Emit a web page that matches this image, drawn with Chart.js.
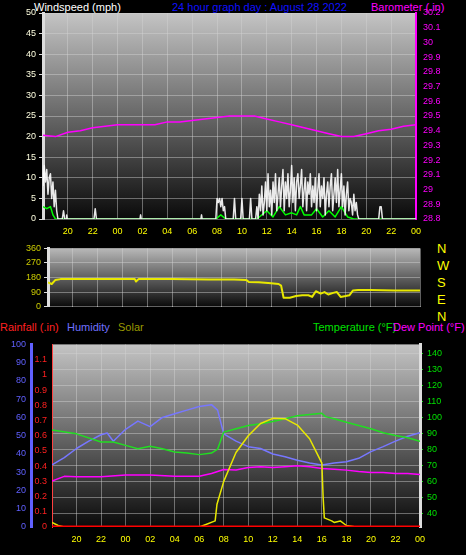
<!DOCTYPE html>
<html><head><meta charset="utf-8">
<script src="https://cdn.jsdelivr.net/npm/chart.js@4.4.0/dist/chart.umd.min.js"></script>
<style>
body{margin:0;background:#000;width:466px;height:555px;overflow:hidden;position:relative;font-family:"Liberation Sans",Arial,sans-serif}
canvas{position:absolute;left:0}
.t{position:absolute;font-size:11px;white-space:nowrap;line-height:12px}
</style></head><body>
<div class="t" style="left:34px;top:1px;color:#fff">Windspeed (mph)</div>
<div class="t" style="left:172px;top:1px;color:#1010ff">24 hour graph day : August 28 2022</div>
<div class="t" style="left:371px;top:1px;color:#ff00ff">Barometer (.in)</div>
<div class="t" style="left:0px;top:321px;color:#ff2020">Rainfall (.in)</div>
<div class="t" style="left:67px;top:321px;color:#7070ff">Humidity</div>
<div class="t" style="left:118px;top:321px;color:#999900">Solar</div>
<div class="t" style="left:313px;top:321px;color:#00e000">Temperature (°F)</div>
<div class="t" style="left:393px;top:321px;color:#ff00ff">Dew Point (°F)</div>
<div class="t" style="left:437px;top:240px;color:#ffff00;font-size:13px;line-height:17px">N<br>W<br>S<br>E<br>N</div>
<canvas id="c1" width="466" height="245" style="top:0"></canvas>
<canvas id="c2" width="466" height="75" style="top:240px"></canvas>
<canvas id="c3" width="466" height="220" style="top:335px"></canvas>
<script>
// hours since 18:00 (x = 0..30)
const hourTicks=[0,2,4,6,8,10,12,14,16,18,20,22,24,26,28,30];
const windHours=[0,0.1,0.2,0.3,0.4,0.5,0.6,0.7,0.8,0.9,1.0,1.1,1.2,1.55,1.65,1.75,1.85,1.9,1.95,4.1,4.2,4.3,7.8,7.85,7.9,12.7,12.75,12.8,13.9,14.0,14.1,14.2,14.3,14.4,14.5,14.6,14.7,15.3,15.4,15.5,15.9,16.0,16.1,16.6,16.7,16.8,17.1,
17.2,17.3,17.4,17.5,17.6,17.7,17.8,17.9,18.0,
18.1,18.2,18.3,18.4,18.5,18.6,18.7,18.8,18.9,19.0,
19.1,19.2,19.3,19.4,19.5,19.6,19.7,19.8,19.9,20.0,
20.1,20.2,20.3,20.4,20.5,20.6,20.7,20.8,20.9,21.0,
21.1,21.2,21.3,21.4,21.5,21.6,21.7,21.8,21.9,22.0,
22.1,22.2,22.3,22.4,22.5,22.6,22.7,22.8,22.9,23.0,
23.1,23.2,23.3,23.4,23.5,23.6,23.7,23.8,23.9,24.0,
24.1,24.2,24.3,24.4,24.5,24.6,24.7,24.8,24.9,25.0,
25.1,25.2,25.3,25.4,25.5,27.0,27.1,27.2,27.3,30];
const windSpeed=[8,13,9,12,6,10,11,5,9,3,7,2,0,0,2,0,0,1,0,0,2.5,0,0,1,0,0,1,0,0,5,4,5,3,5,2,3,0,0,5,0,0,5,0,0,5,0,0,
3,0,6,2,8,1,4,9,2,
11,3,7,1,9,4,11,2,6,10,
3,8,12,2,9,5,11,3,7,13,
4,10,2,9,11,5,8,12,3,7,
10,2,9,6,11,3,8,4,10,2,
7,11,3,8,5,10,1,6,9,3,
8,11,2,6,10,4,12,3,7,11,
3,8,1,6,9,2,5,4,1,6,
2,4,1,0,0,0,3,3,0,0];
const avgHours=[0,0.3,0.6,0.8,1.0,13.9,14.3,14.7,17.2,18,18.5,19,19.5,20,20.4,20.7,21,21.6,22,22.5,23,23.5,24,24.5,25,30];
const avgSpeed=[3,2.5,3,1,0,0,1,0,0,2,0.5,3,1,1.5,1,3,1,1,2.5,0.5,2,0.5,3,0.5,0,0];
const baroHours=[0,1,2,3,4,5,6,7,8,9,10,11,12,13,14,15,16,17,18,19,20,21,22,23,24,25,26,27,28,29,30];
const baroInches=[29.37,29.36,29.39,29.40,29.42,29.43,29.44,29.44,29.44,29.44,29.46,29.46,29.47,29.48,29.49,29.50,29.50,29.50,29.48,29.46,29.44,29.42,29.40,29.38,29.36,29.36,29.38,29.40,29.41,29.43,29.44];
const dirHours=[0,0.3,0.6,1,4,7,7.1,7.3,10,13,14,15,16,16.2,17,18,18.6,18.8,19.0,19.5,20,20.5,21,21.3,21.6,22,22.3,22.6,23,23.3,23.6,24,24.3,24.6,25,26,28,30];
const dirDegrees=[150,140,165,170,170,170,155,170,170,168,168,168,165,152,150,145,140,130,55,55,65,70,70,60,95,80,90,75,85,90,60,65,70,100,102,102,100,100];
const humHours=[0,1,2,3,4,4.5,5,6,7,8,9,10,11,12,13,13.5,14,15,16,17,18,19,20,21,22,23,24,25,26,27,28,29,30];
const humidity=[34,38,43,47,50.5,51.5,47,53.5,58,55,60,62,64,66,67,64,51,47,44,43,40,38.5,36.6,35,34,35,35.7,37.6,41.3,44,47,49.7,51.6];
const tempHours=[0,2,4,5,6,7,8,9,10,11,12,13,13.5,14,15,16,17,18,19,20,21,22,22.3,23,24,25,26,27,28,29,30];
const temperature=[92,89.6,84.5,84.5,82.4,80.3,81.8,80.3,78.3,77.6,76.6,77.6,80,90.7,92.8,94.8,95.9,97.3,99,101,101.7,102.5,100.4,99,96.9,94.8,92.8,90.3,88.6,87.2,85];
const dewHours=[0,1,2,4,6,8,10,12,13,14,15,16,17,18,19,20,21,22,23,24,25,26,27,28,29,30];
const dewPoint=[60,63,62.7,62.7,63.8,63.8,63.1,63.1,64.8,67.3,67,68.5,69,68.5,69,69.6,69,67.9,67.5,66.9,66,65.4,65.4,64.8,64.8,64.2];
const solarHours=[0,0.5,1,12,12.5,13.3,13.45,13.6,14,15,16,17,18,19,20,21,21.5,22,22.1,22.2,22.5,22.8,23,23.5,24,24.8,30];
const solar=[30,10,0,0,15,40,150,190,300,490,600,680,714,712,670,580,500,420,200,60,50,40,30,40,10,0,0];
const rainHours=[0,30];
const rainfall=[0,0];

const hourLabel=v=>(v===0)?'':String((18+v)%24).padStart(2,'0');
const grid={color:'rgba(210,210,210,0.45)',lineWidth:1,tickLength:4,tickColor:'#ddd'};
function bg(c1,c2){return{id:'bg',beforeDraw(ch){const a=ch.chartArea,x=ch.ctx;const g=x.createLinearGradient(0,a.top,0,a.bottom);g.addColorStop(0,c1);g.addColorStop(1,c2);x.save();x.fillStyle=g;x.fillRect(a.left,a.top,a.right-a.left,a.bottom-a.top);x.restore();}};}
const pts=(xs,ys)=>xs.map((h,i)=>({x:h,y:ys[i]}));
const f10={family:'"Liberation Sans",Arial',size:9};
const xAxis=(show,h)=>({type:'linear',min:0,max:30,afterBuildTicks:s=>{s.ticks=hourTicks.map(v=>({value:v}));},
  ticks:{display:show,color:'#ffff00',font:f10,callback:hourLabel,maxRotation:0,autoSkip:false,padding:7},
  grid:{...grid,borderDash:[1,2],tickLength:0},border:{display:false},afterFit:s=>{s.height=h;}});
const lineDs=(data,color,axis,w)=>({data,borderColor:color,borderWidth:w||1.5,pointRadius:0,yAxisID:axis,tension:0,fill:false});
const base={responsive:false,animation:false,parsing:true,plugins:{legend:{display:false},tooltip:{enabled:false}},elements:{line:{borderJoinStyle:'round'}}};

new Chart(document.getElementById('c1'),{type:'line',
 data:{datasets:[lineDs(pts(windHours,windSpeed),'rgba(255,255,255,0.9)','y',1.5),lineDs(pts(avgHours,avgSpeed),'#00ff00','y',1.5),lineDs(pts(baroHours,baroInches),'#ff00ff','y2',1.5)]},
 options:{...base,layout:{padding:{top:13}},scales:{
  x:xAxis(true,26),
  y:{position:'left',min:0,max:50,ticks:{stepSize:5,autoSkip:false,color:'#ffffe0',font:f10,padding:3},grid:{...grid,borderDash:[1,2]},border:{color:'#ddd',width:3},afterFit:s=>{s.width=43;}},
  y2:{position:'right',min:28.8,max:30.2,ticks:{stepSize:0.1,autoSkip:false,color:'#ff00ff',font:f10,padding:3,callback:v=>String(Number(v.toFixed(1)))},grid:{display:false,tickColor:'#ff00ff',tickLength:4},border:{color:'#ff00ff',width:2},afterFit:s=>{s.width=50;}}}},
 plugins:[bg('#c4c4c4','#0a0a0a')]});

new Chart(document.getElementById('c2'),{type:'line',
 data:{datasets:[lineDs(pts(dirHours,dirDegrees),'#e8e800','y',2)]},
 options:{...base,layout:{padding:{top:6,bottom:0,right:46}},scales:{
  x:xAxis(false,5),
  y:{position:'left',min:0,max:360,ticks:{stepSize:90,autoSkip:false,color:'#cccc00',font:f10,padding:3},grid:{...grid,borderDash:[1,2]},border:{color:'#ddd',width:3},afterFit:s=>{s.width=48;}}}},
 plugins:[bg('#b8b8b8','#0a0a0a')]});

new Chart(document.getElementById('c3'),{type:'line',
 data:{datasets:[lineDs(pts(rainHours,rainfall),'#ff0000','rain',3),lineDs(pts(solarHours,solar),'#e8e800','sol',1.5),lineDs(pts(dewHours,dewPoint),'#ff00ff','temp',1.5),lineDs(pts(tempHours,temperature),'#22dd22','temp',1.5),lineDs(pts(humHours,humidity),'#7777ff','hum',1.5)]},
 options:{...base,layout:{padding:{top:8}},scales:{
  x:xAxis(true,28),
  hum:{position:'left',weight:1,min:0,max:100,ticks:{stepSize:10,autoSkip:false,color:'#6060ff',font:f10,padding:2},grid:{display:false,tickColor:'#6060ff',tickLength:3},border:{color:'#6060ff',width:3},afterFit:s=>{s.width=31;}},
  rain:{position:'left',weight:0,min:0,max:1.2,ticks:{stepSize:0.1,autoSkip:false,color:'#ff2020',font:f10,padding:2,callback:v=>(v>=1.15?'':String(Number(v.toFixed(1))))},grid:{display:false,tickColor:'#ff2020',tickLength:3},border:{color:'#ff4040',width:1,dash:[1,1]},afterFit:s=>{s.width=21;}},
  sol:{display:false,min:0,max:1200},
  temp:{position:'right',min:31.3,max:145.6,afterBuildTicks:s=>{s.ticks=[40,50,60,70,80,90,100,110,120,130,140].map(v=>({value:v}));},ticks:{autoSkip:false,color:'#00e000',font:f10,padding:4},grid:{...grid,borderDash:[1,2],tickColor:'#00e000',tickLength:3},border:{color:'#dddddd',width:3},afterFit:s=>{s.width=46;}}}},
 plugins:[bg('#c4c4c4','#0a0a0a')]});
</script></body></html>
